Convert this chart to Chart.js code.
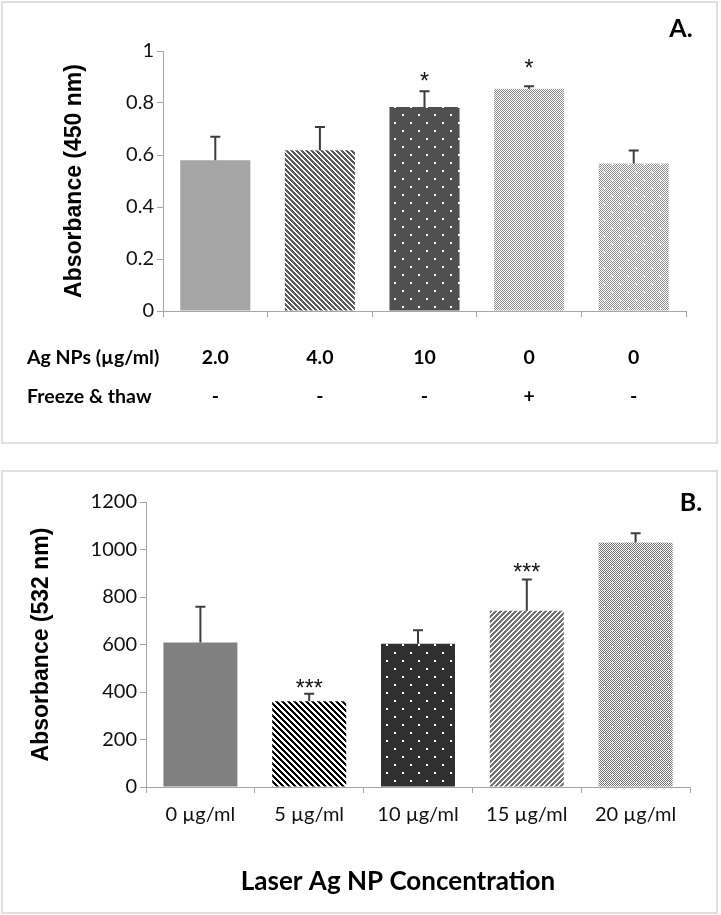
<!DOCTYPE html>
<html>
<head>
<meta charset="utf-8">
<script src="https://cdn.jsdelivr.net/npm/chart.js@4.4.0/dist/chart.umd.min.js"></script>
<style>
  body { margin: 0; background: #fff; width: 721px; height: 915px; position: relative; overflow: hidden; }
  .frame { position: absolute; border: 2px solid #e0e0e0; box-sizing: border-box; }
  #frameA { left: 1px; top: 1px; width: 717px; height: 443px; }
  #frameB { left: 1px; top: 470px; width: 717px; height: 444px; }
  canvas { position: absolute; left: 0; }
  #chartA { top: 0; }
  #chartB { top: 450px; }
</style>
</head>
<body>
<div class="frame" id="frameA"></div>
<div class="frame" id="frameB"></div>
<canvas id="chartA" width="721" height="446"></canvas>
<canvas id="chartB" width="721" height="465"></canvas>
<script>
// Panel A data
const aRowNames = ['Ag NPs (µg/ml)', 'Freeze & thaw'];
const aNps = ['2.0', '4.0', '10', '0', '0'];
const aFreeze = ['-', '-', '-', '+', '-'];
const aMeans = [0.58, 0.618, 0.785, 0.855, 0.567];
const aErrors = [0.09, 0.09, 0.06, 0.009, 0.05];
const aStars = ['', '', '*', '*', ''];
const aStarAt = [0, 0, 0.905, 0.955, 0];

// Panel B data
const bLabels = ['0 µg/ml', '5 µg/ml', '10 µg/ml', '15 µg/ml', '20 µg/ml'];
const bMeans = [608, 361, 603, 742, 1030];
const bErrors = [151, 32, 57, 132, 38];
const bStars = ['', '***', '', '***', ''];
const bStarAt = [0, 438, 0, 926, 0];
const bTitle = 'Laser Ag NP Concentration';

const textFont = 'Lato, "Open Sans", sans-serif';
const axisGray = '#a6a6a6';

// pixel tiles for the bar fills (excel style patterns)
function tile(ctx, w, h, fn) {
  const c = document.createElement('canvas');
  c.width = w; c.height = h;
  const g = c.getContext('2d');
  const img = g.createImageData(w, h);
  for (let y = 0; y < h; y++) {
    for (let x = 0; x < w; x++) {
      const v = fn(x, y);
      const k = (y * w + x) * 4;
      img.data[k] = v; img.data[k + 1] = v; img.data[k + 2] = v; img.data[k + 3] = 255;
    }
  }
  g.putImageData(img, 0, 0);
  return ctx.createPattern(c, 'repeat');
}
const solid = (ctx, v) => tile(ctx, 1, 1, () => v);
const stripes = (ctx, p, w, dark, up) =>
  tile(ctx, p, p, (x, y) => ((up ? x + y : x - y + p * 4) % p) < w ? dark : 255);
function dotAt(x, y, s) {
  return ((x >= 2 && x < 2 + s && y >= 2 && y < 2 + s) || (x >= 10 && x < 10 + s && y >= 10 && y < 10 + s));
}
const dots = (ctx, bg) => tile(ctx, 16, 16, (x, y) => dotAt(x, y, 2) ? 255 : bg);
function plusAt(x, y) {
  const near = (cx, cy) => Math.abs(x - cx) + Math.abs(y - cy) <= 1;
  return near(4, 4) || near(12, 12);
}
const checker = (ctx, dark) => tile(ctx, 2, 2, (x, y) => (x + y) % 2 ? 255 : dark);
const checkerDots = (ctx, dark) => tile(ctx, 16, 16, (x, y) => plusAt(x, y) ? 255 : ((x + y) % 2 ? 255 : dark));

// error bars + significance stars
const errorBars = {
  id: 'errorBars',
  afterDatasetsDraw(chart, args, opts) {
    const ctx = chart.ctx;
    const y = chart.scales.y;
    const bars = chart.getDatasetMeta(0).data;
    ctx.save();
    ctx.strokeStyle = '#3c3c3c';
    ctx.lineWidth = 2;
    bars.forEach((bar, i) => {
      const top = y.getPixelForValue(opts.means[i] + opts.errors[i]);
      ctx.beginPath();
      ctx.moveTo(bar.x, bar.y);
      ctx.lineTo(bar.x, top);
      ctx.moveTo(bar.x - 5, top);
      ctx.lineTo(bar.x + 5, top);
      ctx.stroke();
    });
    ctx.fillStyle = '#111';
    ctx.font = '23px "Liberation Sans", Arial, sans-serif';
    ctx.textAlign = 'center';
    ctx.textBaseline = 'alphabetic';
    bars.forEach((bar, i) => {
      if (opts.stars[i]) ctx.fillText(opts.stars[i], bar.x, y.getPixelForValue(opts.starAt[i]) + 13);
    });
    ctx.restore();
  }
};

// panel letter, label rows under panel A, x title of panel B
const panelText = {
  id: 'panelText',
  afterDraw(chart, args, opts) {
    const ctx = chart.ctx;
    ctx.save();
    ctx.fillStyle = '#000';
    ctx.textBaseline = 'middle';
    ctx.font = 'bold 25px ' + textFont;
    ctx.textAlign = 'center';
    ctx.fillText(opts.letter, opts.letterX, opts.letterY);
    if (opts.rows) {
      const x = chart.scales.x;
      ctx.font = 'bold 19.5px ' + textFont;
      opts.rows.forEach((row, r) => {
        const ry = opts.rowY[r];
        ctx.textAlign = 'left';
        ctx.fillText(aRowNames[r], 27, ry);
        ctx.textAlign = 'center';
        row.forEach((t, i) => ctx.fillText(t, x.getPixelForValue(i), ry));
      });
    }
    if (opts.xTitle) {
      ctx.font = 'bold 26px ' + textFont;
      ctx.textAlign = 'center';
      ctx.fillText(opts.xTitle, opts.xTitleX, opts.xTitleY);
    }
    ctx.restore();
  }
};

function yScale(max, step, width, title) {
  return {
    min: 0, max: max,
    ticks: { stepSize: step, color: '#111', padding: 3, font: { family: textFont, size: 20 }, callback: v => String(v) },
    grid: { drawOnChartArea: false, tickLength: 6, color: axisGray },
    border: { color: axisGray },
    title: { display: true, text: title, color: '#000', font: { family: 'Liberation Sans, Arial, sans-serif', size: 23, weight: 'bold' } },
    afterFit: s => { s.width = width; }
  };
}

// Panel A
const ctxA = document.getElementById('chartA').getContext('2d');
new Chart(ctxA, {
  type: 'bar',
  data: {
    labels: aNps,
    datasets: [{
      data: aMeans,
      backgroundColor: [solid(ctxA, 165), stripes(ctxA, 5, 3, 90, false), dots(ctxA, 80), checker(ctxA, 140), checkerDots(ctxA, 145)],
      borderWidth: 0,
      barPercentage: 0.67,
      categoryPercentage: 1
    }]
  },
  options: {
    responsive: false,
    animation: false,
    layout: { padding: { top: 51, right: 35, bottom: 0, left: 57 } },
    plugins: {
      legend: { display: false },
      tooltip: { enabled: false },
      errorBars: { means: aMeans, errors: aErrors, stars: aStars, starAt: aStarAt },
      panelText: { letter: 'A.', letterX: 681, letterY: 29, rows: [aNps, aFreeze], rowY: [358, 397] }
    },
    scales: {
      x: {
        ticks: { display: false },
        grid: { offset: true, drawOnChartArea: false, tickLength: 6, color: axisGray },
        border: { color: axisGray },
        afterFit: s => { s.height = 135; }
      },
      y: yScale(1, 0.2, 106, 'Absorbance (450 nm)')
    }
  },
  plugins: [errorBars, panelText]
});

// Panel B
const ctxB = document.getElementById('chartB').getContext('2d');
new Chart(ctxB, {
  type: 'bar',
  data: {
    labels: bLabels,
    datasets: [{
      data: bMeans,
      backgroundColor: [solid(ctxB, 128), stripes(ctxB, 6, 3, 0, false), dots(ctxB, 48), stripes(ctxB, 5, 3, 115, true), checkerDots(ctxB, 110)],
      borderWidth: 0,
      barPercentage: 0.68,
      categoryPercentage: 1
    }]
  },
  options: {
    responsive: false,
    animation: false,
    layout: { padding: { top: 52, right: 31, bottom: 0, left: 24 } },
    plugins: {
      legend: { display: false },
      tooltip: { enabled: false },
      errorBars: { means: bMeans, errors: bErrors, stars: bStars, starAt: bStarAt },
      panelText: { letter: 'B.', letterX: 691, letterY: 53, xTitle: bTitle, xTitleX: 398, xTitleY: 432 }
    },
    scales: {
      x: {
        ticks: { color: '#111', padding: 10, maxRotation: 0, font: { family: textFont, size: 20 } },
        grid: { offset: true, drawOnChartArea: false, tickLength: 6, color: axisGray },
        border: { color: axisGray },
        afterFit: s => { s.height = 128; }
      },
      y: yScale(1200, 200, 122, 'Absorbance (532 nm)')
    }
  },
  plugins: [errorBars, panelText]
});
</script>
</body>
</html>
